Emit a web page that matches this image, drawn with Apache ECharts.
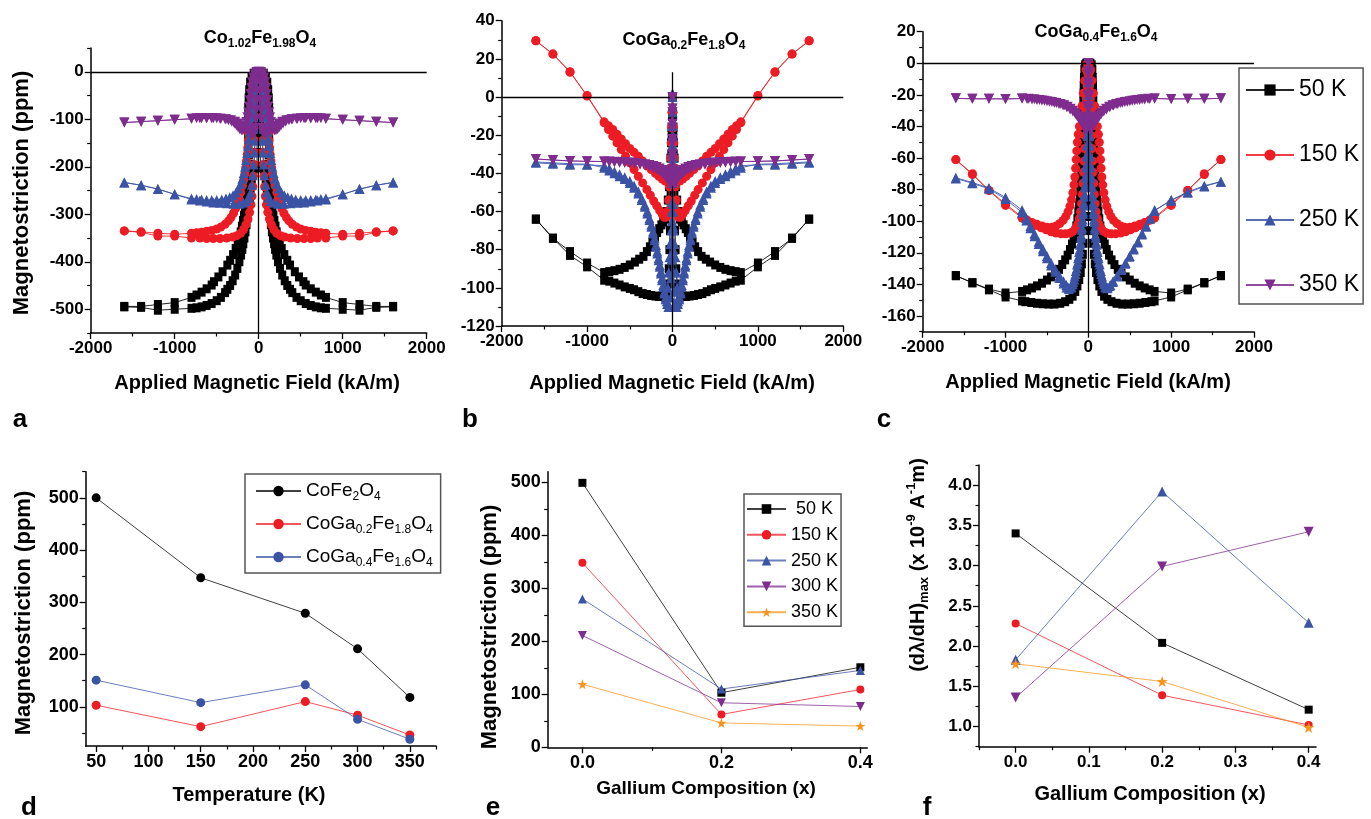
<!DOCTYPE html>
<html><head><meta charset="utf-8">
<script src="https://cdn.jsdelivr.net/npm/echarts@6/dist/echarts.min.js"></script>
<style>html,body{margin:0;padding:0;background:#fff}#c{width:1371px;height:819px}</style>
</head><body><div id="c"></div>
<script>
// ---------------- DATA ----------------
// Panel a: Co1.02Fe1.98O4, [H (kA/m), lambda (ppm)], two sweep branches per temperature
const a50A=[[-1600,-494],[-1400,-494],[-1200,-490],[-1000,-486],[-800,-475],[-740,-470],[-680,-464],[-620,-457],[-560,-449],[-532,-442],[-480,-432],[-430,-421],[-373,-407],[-340,-397],[-305,-385],[-274,-372],[-250,-360],[-230,-348],[-214,-337],[-200,-325],[-187,-313],[-175,-302],[-163,-289],[-152,-278],[-143,-267],[-135,-255],[-127,-243],[-119,-232],[-115,-215],[-115,-195],[-118,-175],[-122,-155],[-125,-135],[-127,-115],[-127,-95],[-125,-75],[-120,-55],[-113,-38],[-102,-22],[-85,-10],[-60,-3],[-30,0],[0,0],[10,-20],[15,-50],[18,-80],[20,-110],[20,-140],[20,-170],[20,-200],[40,-202],[60,-205],[75,-212],[83,-225],[90,-238],[97,-252],[105,-266],[115,-280],[125,-294],[135,-308],[145,-322],[157,-337],[170,-350],[183,-362],[195,-374],[210,-386],[230,-400],[254,-414],[280,-428],[310,-440],[340,-450],[373,-458],[400,-465],[450,-475],[500,-482],[560,-488],[620,-492],[680,-495],[740,-497],[800,-498],[1000,-500],[1200,-502],[1400,-496],[1600,-495]];
const a50B=[[-1600,-495],[-1400,-496],[-1200,-502],[-1000,-500],[-800,-498],[-740,-497],[-680,-495],[-620,-492],[-560,-488],[-500,-482],[-450,-475],[-400,-465],[-373,-458],[-340,-450],[-310,-440],[-280,-428],[-254,-414],[-230,-400],[-210,-386],[-195,-374],[-183,-362],[-170,-350],[-157,-337],[-145,-322],[-135,-308],[-125,-294],[-115,-280],[-105,-266],[-97,-252],[-90,-238],[-83,-225],[-75,-212],[-60,-205],[-40,-202],[-20,-200],[-20,-170],[-20,-140],[-20,-110],[-18,-80],[-15,-50],[-10,-20],[0,0],[30,0],[60,-3],[85,-10],[102,-22],[113,-38],[120,-55],[125,-75],[127,-95],[127,-115],[125,-135],[122,-155],[118,-175],[115,-195],[115,-215],[119,-232],[127,-243],[135,-255],[143,-267],[152,-278],[163,-289],[175,-302],[187,-313],[200,-325],[214,-337],[230,-348],[250,-360],[274,-372],[305,-385],[340,-397],[373,-407],[430,-421],[480,-432],[532,-442],[560,-449],[620,-457],[680,-464],[740,-470],[800,-475],[1000,-486],[1200,-490],[1400,-494],[1600,-494]];
const a150A=[[-1600,-335],[-1400,-337],[-1200,-340],[-1000,-342],[-800,-340],[-740,-339],[-680,-338],[-620,-336],[-560,-334],[-500,-331],[-450,-327],[-400,-321],[-360,-314],[-330,-307],[-300,-298],[-275,-288],[-254,-278],[-235,-267],[-215,-254],[-194,-240],[-178,-228],[-165,-215],[-155,-202],[-145,-188],[-137,-174],[-130,-160],[-124,-145],[-118,-130],[-112,-115],[-106,-100],[-100,-85],[-94,-70],[-88,-55],[-80,-40],[-70,-25],[-55,-12],[-35,-3],[0,0],[15,-20],[22,-45],[28,-70],[33,-95],[38,-120],[43,-145],[48,-170],[55,-195],[62,-220],[70,-242],[80,-262],[92,-280],[108,-296],[128,-310],[152,-322],[180,-332],[215,-340],[260,-345],[310,-348],[380,-350],[460,-351],[540,-351],[620,-351],[700,-350],[800,-350],[1000,-346],[1200,-346],[1400,-338],[1600,-335]];
const a150B=[[-1600,-335],[-1400,-338],[-1200,-346],[-1000,-346],[-800,-350],[-700,-350],[-620,-351],[-540,-351],[-460,-351],[-380,-350],[-310,-348],[-260,-345],[-215,-340],[-180,-332],[-152,-322],[-128,-310],[-108,-296],[-92,-280],[-80,-262],[-70,-242],[-62,-220],[-55,-195],[-48,-170],[-43,-145],[-38,-120],[-33,-95],[-28,-70],[-22,-45],[-15,-20],[0,0],[35,-3],[55,-12],[70,-25],[80,-40],[88,-55],[94,-70],[100,-85],[106,-100],[112,-115],[118,-130],[124,-145],[130,-160],[137,-174],[145,-188],[155,-202],[165,-215],[178,-228],[194,-240],[215,-254],[235,-267],[254,-278],[275,-288],[300,-298],[330,-307],[360,-314],[400,-321],[450,-327],[500,-331],[560,-334],[620,-336],[680,-338],[740,-339],[800,-340],[1000,-342],[1200,-340],[1400,-337],[1600,-335]];
const a250A=[[-1600,-233],[-1400,-239],[-1200,-247],[-1000,-258],[-800,-267],[-740,-268],[-680,-269],[-620,-270],[-560,-270],[-500,-270],[-440,-269],[-390,-267],[-345,-264],[-305,-260],[-270,-254],[-240,-246],[-215,-236],[-195,-225],[-178,-213],[-163,-200],[-150,-186],[-138,-171],[-127,-156],[-117,-141],[-108,-126],[-99,-111],[-90,-96],[-81,-81],[-72,-66],[-62,-51],[-51,-36],[-38,-21],[-22,-8],[0,0],[12,-20],[20,-45],[27,-70],[33,-95],[39,-120],[45,-145],[52,-170],[60,-195],[70,-218],[82,-238],[97,-254],[118,-265],[145,-272],[180,-276],[230,-278],[300,-278],[380,-277],[460,-276],[540,-275],[620,-273],[700,-271],[800,-269],[1000,-258],[1200,-247],[1400,-239],[1600,-233]];
const a250B=[[-1600,-233],[-1400,-239],[-1200,-247],[-1000,-258],[-800,-269],[-700,-271],[-620,-273],[-540,-275],[-460,-276],[-380,-277],[-300,-278],[-230,-278],[-180,-276],[-145,-272],[-118,-265],[-97,-254],[-82,-238],[-70,-218],[-60,-195],[-52,-170],[-45,-145],[-39,-120],[-33,-95],[-27,-70],[-20,-45],[-12,-20],[0,0],[22,-8],[38,-21],[51,-36],[62,-51],[72,-66],[81,-81],[90,-96],[99,-111],[108,-126],[117,-141],[127,-156],[138,-171],[150,-186],[163,-200],[178,-213],[195,-225],[215,-236],[240,-246],[270,-254],[305,-260],[345,-264],[390,-267],[440,-269],[500,-270],[560,-270],[620,-270],[680,-269],[740,-268],[800,-267],[1000,-258],[1200,-247],[1400,-239],[1600,-233]];
const a350A=[[-1600,-107],[-1400,-105],[-1200,-103],[-1000,-101],[-800,-99],[-740,-98],[-680,-98],[-620,-98],[-560,-98],[-500,-98],[-450,-99],[-400,-100],[-360,-102],[-320,-105],[-290,-109],[-265,-113],[-245,-117],[-225,-121],[-205,-123],[-188,-123],[-172,-120],[-158,-114],[-146,-106],[-135,-96],[-125,-85],[-115,-73],[-106,-60],[-97,-47],[-88,-34],[-78,-22],[-65,-12],[-48,-5],[-28,-1],[0,0],[12,-20],[18,-40],[24,-60],[30,-80],[36,-100],[44,-118],[56,-128],[75,-130],[100,-128],[130,-124],[160,-119],[195,-114],[235,-109],[280,-105],[330,-102],[390,-100],[460,-99],[540,-98],[620,-98],[700,-98],[800,-99],[1000,-101],[1200,-103],[1400,-105],[1600,-107]];
const a350B=[[-1600,-107],[-1400,-105],[-1200,-103],[-1000,-101],[-800,-99],[-700,-98],[-620,-98],[-540,-98],[-460,-99],[-390,-100],[-330,-102],[-280,-105],[-235,-109],[-195,-114],[-160,-119],[-130,-124],[-100,-128],[-75,-130],[-56,-128],[-44,-118],[-36,-100],[-30,-80],[-24,-60],[-18,-40],[-12,-20],[0,0],[28,-1],[48,-5],[65,-12],[78,-22],[88,-34],[97,-47],[106,-60],[115,-73],[125,-85],[135,-96],[146,-106],[158,-114],[172,-120],[188,-123],[205,-123],[225,-121],[245,-117],[265,-113],[290,-109],[320,-105],[360,-102],[400,-100],[450,-99],[500,-98],[560,-98],[620,-98],[680,-98],[740,-98],[800,-99],[1000,-101],[1200,-103],[1400,-105],[1600,-107]];

// Panel b: CoGa0.2Fe1.8O4
const b50A=[[-1600,-64],[-1400,-74],[-1200,-81],[-1000,-87],[-800,-92],[-740,-91.5],[-680,-91],[-620,-90.3],[-560,-89.3],[-500,-88],[-440,-86.5],[-390,-85],[-340,-83.5],[-300,-81],[-265,-78.5],[-235,-76],[-205,-73.5],[-180,-71],[-155,-69],[-130,-67],[-108,-65.5],[-87,-64],[-70,-60],[-55,-54],[-42,-47],[-32,-40],[-24,-32],[-17,-24],[-11,-16],[-6,-8],[0,0],[6,-10],[10,-20],[14,-30],[18,-40],[22,-50],[26,-60],[30,-70],[36,-80],[44,-90],[55,-98],[70,-102],[90,-104],[120,-104.5],[160,-104.5],[200,-104.3],[250,-104],[300,-103.5],[350,-103],[400,-102],[450,-101],[500,-100.3],[560,-99.5],[620,-98.5],[680,-97.5],[740,-96.5],[800,-96],[1000,-89],[1200,-83],[1400,-74],[1600,-64]];
const b50B=[[-1600,-64],[-1400,-74],[-1200,-83],[-1000,-89],[-800,-96],[-740,-96.5],[-680,-97.5],[-620,-98.5],[-560,-99.5],[-500,-100.3],[-450,-101],[-400,-102],[-350,-103],[-300,-103.5],[-250,-104],[-200,-104.3],[-160,-104.5],[-120,-104.5],[-90,-104],[-70,-102],[-55,-98],[-44,-90],[-36,-80],[-30,-70],[-26,-60],[-22,-50],[-18,-40],[-14,-30],[-10,-20],[-6,-10],[0,0],[6,-8],[11,-16],[17,-24],[24,-32],[32,-40],[42,-47],[55,-54],[70,-60],[87,-64],[108,-65.5],[130,-67],[155,-69],[180,-71],[205,-73.5],[235,-76],[265,-78.5],[300,-81],[340,-83.5],[390,-85],[440,-86.5],[500,-88],[560,-89.3],[620,-90.3],[680,-91],[740,-91.5],[800,-92],[1000,-87],[1200,-81],[1400,-74],[1600,-64]];
const b150A=[[-1600,29.5],[-1400,22.5],[-1200,13.3],[-1000,0.5],[-800,-13.5],[-750,-17],[-700,-20.5],[-650,-24],[-600,-27.5],[-550,-31],[-500,-34.5],[-450,-38],[-400,-41.5],[-350,-45],[-300,-48.5],[-260,-51.5],[-220,-54.5],[-185,-57],[-150,-59.5],[-120,-61.5],[-95,-63],[-75,-63],[-58,-60],[-45,-54],[-36,-47],[-28,-40],[-21,-32],[-15,-24],[-10,-16],[-5,-8],[0,0],[5,-8],[9,-16],[13,-24],[17,-32],[22,-37],[35,-41],[55,-43.5],[85,-44],[120,-43],[160,-41.5],[200,-40],[250,-38],[300,-36],[350,-33.5],[400,-31],[450,-29],[500,-27],[550,-24.5],[600,-22],[650,-19.5],[700,-17],[750,-15],[800,-13],[1000,0.8],[1200,13],[1400,22.5],[1600,29.5]];
const b150B=[[-1600,29.5],[-1400,22.5],[-1200,13],[-1000,0.8],[-800,-13],[-750,-15],[-700,-17],[-650,-19.5],[-600,-22],[-550,-24.5],[-500,-27],[-450,-29],[-400,-31],[-350,-33.5],[-300,-36],[-250,-38],[-200,-40],[-160,-41.5],[-120,-43],[-85,-44],[-55,-43.5],[-35,-41],[-22,-37],[-17,-32],[-13,-24],[-9,-16],[-5,-8],[0,0],[5,-8],[10,-16],[15,-24],[21,-32],[28,-40],[36,-47],[45,-54],[58,-60],[75,-63],[95,-63],[120,-61.5],[150,-59.5],[185,-57],[220,-54.5],[260,-51.5],[300,-48.5],[350,-45],[400,-41.5],[450,-38],[500,-34.5],[550,-31],[600,-27.5],[650,-24],[700,-20.5],[750,-17],[800,-13.5],[1000,0.5],[1200,13.3],[1400,22.5],[1600,29.5]];
const b250A=[[-1600,-34],[-1400,-34.5],[-1200,-35],[-1000,-35.2],[-800,-37],[-740,-38.5],[-680,-40],[-620,-41.5],[-560,-43],[-500,-45],[-450,-47.5],[-400,-50.5],[-360,-54],[-325,-57.5],[-295,-61],[-270,-64.5],[-248,-68],[-228,-71.5],[-210,-75],[-194,-78.5],[-178,-82],[-163,-85.5],[-149,-89],[-136,-92.5],[-122,-96],[-108,-99.5],[-95,-103],[-80,-106],[-64,-108.5],[-48,-110],[-32,-110],[-20,-105],[-14,-95],[-10,-85],[-7,-75],[-5,-65],[-3,-55],[-2,-45],[-1,-35],[0,-25],[0,-15],[0,-5],[0,2],[2,-8],[3,-20],[4,-32],[5,-44],[6,-56],[8,-68],[10,-80],[14,-92],[20,-102],[30,-108],[48,-110],[64,-108.5],[80,-106],[95,-103],[108,-99.5],[122,-96],[136,-92.5],[149,-89],[163,-85.5],[178,-82],[194,-78.5],[210,-75],[228,-71.5],[248,-68],[270,-64.5],[295,-61],[325,-57.5],[360,-54],[400,-50.5],[450,-47.5],[500,-45],[560,-43],[620,-41.5],[680,-40],[740,-38.5],[800,-37],[1000,-35.2],[1200,-35],[1400,-34.5],[1600,-34]];
const b250B=[[-1600,-34.5],[-1400,-35],[-1200,-35.5],[-1000,-35.5],[-800,-36],[-740,-37.5],[-680,-39],[-620,-40.5],[-560,-42],[-500,-44],[-450,-46.5],[-400,-49.5],[-360,-53],[-325,-56.5],[-295,-60],[-270,-63.5],[-248,-67],[-228,-70.5],[-210,-74],[-194,-77.5],[-178,-81],[-163,-84.5],[-149,-88],[-136,-91.5],[-122,-95],[-108,-98.5],[-95,-102],[-80,-105],[-66,-107],[-55,-100],[-45,-92],[-35,-84],[-25,-77],[-15,-70],[-6,-60],[-3,-45],[-1,-30],[0,-15],[0,0],[1,-20],[3,-40],[6,-60],[15,-70],[25,-77],[35,-84],[45,-92],[55,-100],[66,-107],[80,-105],[95,-102],[108,-98.5],[122,-95],[136,-91.5],[149,-88],[163,-84.5],[178,-81],[194,-77.5],[210,-74],[228,-70.5],[248,-67],[270,-63.5],[295,-60],[325,-56.5],[360,-53],[400,-49.5],[450,-46.5],[500,-44],[560,-42],[620,-40.5],[680,-39],[740,-37.5],[800,-36],[1000,-35.5],[1200,-35.5],[1400,-35],[1600,-34.5]];
const b350A=[[-1600,-32.5],[-1400,-33],[-1200,-33.5],[-1000,-33.7],[-800,-33.8],[-740,-34],[-680,-34.2],[-620,-34.4],[-560,-34.6],[-500,-34.8],[-440,-35.1],[-380,-35.5],[-320,-36],[-270,-36.6],[-225,-37.3],[-185,-38.1],[-150,-39],[-120,-40],[-95,-41],[-72,-42.2],[-52,-43.5],[-35,-45],[-22,-46],[-12,-44],[-7,-38],[-4,-30],[-2,-22],[-1,-14],[0,-6],[0,0],[1,-8],[2,-16],[4,-24],[6,-32],[9,-39],[14,-43],[22,-43],[35,-42],[52,-41],[72,-40],[95,-39],[120,-38.2],[150,-37.4],[185,-36.7],[225,-36.1],[270,-35.6],[320,-35.2],[380,-34.8],[440,-34.5],[500,-34.3],[560,-34.1],[620,-34],[680,-33.9],[740,-33.8],[800,-33.8],[1000,-33.7],[1200,-33.5],[1400,-33],[1600,-32.5]];
const b350B=[[-1600,-32.5],[-1400,-33],[-1200,-33.5],[-1000,-33.7],[-800,-33.8],[-740,-33.8],[-680,-33.9],[-620,-34],[-560,-34.1],[-500,-34.3],[-440,-34.5],[-380,-34.8],[-320,-35.2],[-270,-35.6],[-225,-36.1],[-185,-36.7],[-150,-37.4],[-120,-38.2],[-95,-39],[-72,-40],[-52,-41],[-35,-42],[-22,-43],[-14,-43],[-9,-39],[-6,-32],[-4,-24],[-2,-16],[-1,-8],[0,0],[0,-6],[1,-14],[2,-22],[4,-30],[7,-38],[12,-44],[22,-46],[35,-45],[52,-43.5],[72,-42.2],[95,-41],[120,-40],[150,-39],[185,-38.1],[225,-37.3],[270,-36.6],[320,-36],[380,-35.5],[440,-35.1],[500,-34.8],[560,-34.6],[620,-34.4],[680,-34.2],[740,-34],[800,-33.8],[1000,-33.7],[1200,-33.5],[1400,-33],[1600,-32.5]];

// Panel c: CoGa0.4Fe1.6O4
const c50A=[[-1600,-134.5],[-1400,-139],[-1200,-143],[-1000,-145.5],[-800,-144.5],[-740,-143.5],[-680,-142.3],[-620,-141],[-560,-139.3],[-500,-137.3],[-450,-135.3],[-400,-133],[-355,-130.5],[-315,-127.5],[-280,-124.5],[-250,-121.5],[-222,-118],[-198,-114.5],[-178,-111],[-160,-107],[-145,-103],[-132,-98.5],[-121,-94],[-112,-89],[-104,-84],[-97,-79],[-91,-74],[-86,-69],[-81,-64],[-77,-59],[-73,-54],[-70,-49],[-68,-44],[-66,-39],[-64,-34],[-62,-29],[-60,-24],[-58,-19],[-56,-14],[-53,-9],[-48,-4],[-40,-1],[-25,0],[0,0],[15,-8],[20,-18],[24,-28],[27,-38],[30,-48],[33,-58],[36,-68],[39,-78],[42,-88],[46,-97],[51,-106],[58,-114],[67,-121],[78,-127],[92,-132.5],[110,-137],[132,-141],[158,-144.5],[190,-147.5],[230,-149.5],[280,-151],[340,-152],[410,-152.5],[480,-152.5],[550,-152.3],[620,-152],[690,-151.5],[760,-151],[800,-150.5],[1000,-148],[1200,-143.5],[1400,-139],[1600,-134.5]];
const c50B=[[-1600,-134.5],[-1400,-139],[-1200,-143.5],[-1000,-148],[-800,-150.5],[-760,-151],[-690,-151.5],[-620,-152],[-550,-152.3],[-480,-152.5],[-410,-152.5],[-340,-152],[-280,-151],[-230,-149.5],[-190,-147.5],[-158,-144.5],[-132,-141],[-110,-137],[-92,-132.5],[-78,-127],[-67,-121],[-58,-114],[-51,-106],[-46,-97],[-42,-88],[-39,-78],[-36,-68],[-33,-58],[-30,-48],[-27,-38],[-24,-28],[-20,-18],[-15,-8],[0,0],[25,0],[40,-1],[48,-4],[53,-9],[56,-14],[58,-19],[60,-24],[62,-29],[64,-34],[66,-39],[68,-44],[70,-49],[73,-54],[77,-59],[81,-64],[86,-69],[91,-74],[97,-79],[104,-84],[112,-89],[121,-94],[132,-98.5],[145,-103],[160,-107],[178,-111],[198,-114.5],[222,-118],[250,-121.5],[280,-124.5],[315,-127.5],[355,-130.5],[400,-133],[450,-135.3],[500,-137.3],[560,-139.3],[620,-141],[680,-142.3],[740,-143.5],[800,-144.5],[1000,-145.5],[1200,-143],[1400,-139],[1600,-134.5]];
const c150A=[[-1600,-61],[-1400,-70],[-1200,-80.5],[-1000,-89],[-800,-97.5],[-740,-99.3],[-680,-100.8],[-620,-102],[-560,-103],[-500,-103.8],[-440,-103.8],[-390,-103],[-345,-101.5],[-305,-99.5],[-272,-97],[-245,-94],[-222,-90.5],[-203,-86.5],[-187,-82],[-174,-77],[-163,-72],[-154,-66.5],[-147,-61],[-140,-55.5],[-132,-50],[-122,-45],[-108,-40],[-92,-34],[-76,-27],[-60,-19],[-44,-11],[-28,-4],[-12,0],[0,0],[10,-6],[16,-14],[22,-22],[28,-30],[34,-38],[40,-46],[46,-54],[52,-62],[58,-69],[65,-76],[73,-83],[83,-89],[95,-94],[110,-98.5],[130,-102],[155,-104.5],[185,-106.5],[225,-107.7],[275,-108],[330,-108],[390,-107.5],[450,-106.7],[510,-105.5],[570,-104.2],[630,-102.7],[690,-101],[750,-99.3],[800,-98],[1000,-90],[1200,-80.5],[1400,-70.5],[1600,-61]];
const c150B=[[-1600,-61],[-1400,-70.5],[-1200,-80.5],[-1000,-90],[-800,-98],[-750,-99.3],[-690,-101],[-630,-102.7],[-570,-104.2],[-510,-105.5],[-450,-106.7],[-390,-107.5],[-330,-108],[-275,-108],[-225,-107.7],[-185,-106.5],[-155,-104.5],[-130,-102],[-110,-98.5],[-95,-94],[-83,-89],[-73,-83],[-65,-76],[-58,-69],[-52,-62],[-46,-54],[-40,-46],[-34,-38],[-28,-30],[-22,-22],[-16,-14],[-10,-6],[0,0],[12,0],[28,-4],[44,-11],[60,-19],[76,-27],[92,-34],[108,-40],[122,-45],[132,-50],[140,-55.5],[147,-61],[154,-66.5],[163,-72],[174,-77],[187,-82],[203,-86.5],[222,-90.5],[245,-94],[272,-97],[305,-99.5],[345,-101.5],[390,-103],[440,-103.8],[500,-103.8],[560,-103],[620,-102],[680,-100.8],[740,-99.3],[800,-97.5],[1000,-89],[1200,-80.5],[1400,-70],[1600,-61]];
const c250A=[[-1600,-72.5],[-1400,-75.5],[-1200,-79],[-1000,-85],[-800,-93],[-750,-98],[-700,-103],[-650,-108],[-600,-113],[-550,-117.5],[-500,-122],[-450,-126.5],[-400,-130.5],[-350,-134.5],[-300,-138],[-265,-140.5],[-235,-142],[-210,-142],[-188,-140],[-170,-137],[-154,-133.5],[-140,-130],[-127,-126],[-115,-122],[-104,-118],[-94,-113.5],[-85,-109],[-76,-104],[-68,-99],[-60,-94],[-52,-88.5],[-44,-83],[-36,-77],[-29,-71],[-22,-64.5],[-16,-58],[-11,-51],[-7,-45],[-3,-42],[0,-40],[0,-30],[0,-20],[2,-12],[4,-25],[6,-38],[9,-46],[13,-52],[18,-59],[24,-66],[31,-72.5],[38,-78.5],[46,-84.5],[54,-90],[62,-95.5],[71,-100.5],[80,-105.5],[90,-110.5],[100,-115],[112,-119.5],[124,-123.5],[137,-127.5],[151,-131.5],[166,-135],[183,-138.5],[203,-141.5],[228,-142.5],[258,-141],[295,-138.5],[345,-135],[395,-131],[445,-127],[495,-122.5],[545,-118],[595,-113.5],[645,-108.5],[695,-103.5],[745,-98.5],[800,-93.5],[1000,-86.5],[1200,-82],[1400,-78],[1600,-75]];
const c250B=[[-1600,-73],[-1400,-76],[-1200,-79.5],[-1000,-86],[-800,-94.5],[-750,-99.5],[-700,-104.5],[-650,-109.5],[-600,-114.5],[-550,-119],[-500,-123.5],[-450,-128],[-400,-132],[-350,-136],[-300,-139.5],[-265,-142],[-235,-143],[-205,-141.5],[-183,-138.5],[-166,-135],[-151,-131.5],[-137,-127.5],[-124,-123.5],[-112,-119.5],[-100,-115],[-90,-110.5],[-80,-105.5],[-71,-100.5],[-62,-95.5],[-54,-90],[-46,-84.5],[-38,-78.5],[-31,-72.5],[-24,-66],[-18,-59],[-13,-52],[-9,-46],[-5,-41],[0,-40],[3,-42],[7,-45],[11,-51],[16,-58],[22,-64.5],[29,-71],[36,-77],[44,-83],[52,-88.5],[60,-94],[68,-99],[76,-104],[85,-109],[94,-113.5],[104,-118],[115,-122],[127,-126],[140,-130],[154,-133.5],[170,-137],[188,-140],[210,-142],[235,-142],[265,-140.5],[300,-138],[350,-134.5],[400,-130.5],[450,-126.5],[500,-122],[550,-117.5],[600,-113],[650,-108],[700,-103],[750,-98],[800,-93],[1000,-87],[1200,-81.5],[1400,-77.5],[1600,-75]];
const c350A=[[-1600,-22.2],[-1400,-22.5],[-1200,-22.5],[-1000,-22.6],[-800,-22.3],[-740,-22.6],[-680,-22.9],[-620,-23.2],[-560,-23.6],[-500,-24],[-440,-24.5],[-385,-25.1],[-335,-25.8],[-290,-26.6],[-250,-27.6],[-215,-28.8],[-185,-30.1],[-158,-31.5],[-135,-33],[-114,-34.6],[-95,-36.2],[-78,-37.8],[-62,-39.3],[-47,-40.6],[-34,-41.6],[-22,-42],[-13,-40],[-8,-34],[-5,-27],[-3,-20],[-1,-12],[0,-5],[0,0],[1,-7],[3,-14],[5,-21],[8,-28],[12,-34],[18,-38.5],[27,-41],[39,-41.2],[53,-40],[69,-38.5],[87,-37],[107,-35.4],[130,-33.8],[156,-32.2],[186,-30.6],[220,-29.2],[260,-27.9],[305,-26.8],[355,-25.8],[410,-25],[470,-24.3],[530,-23.7],[590,-23.2],[650,-22.8],[720,-22.5],[800,-22.3],[1000,-22.6],[1200,-22.5],[1400,-22.5],[1600,-22.2]];
const c350B=[[-1600,-22.2],[-1400,-22.5],[-1200,-22.5],[-1000,-22.6],[-800,-22.3],[-720,-22.5],[-650,-22.8],[-590,-23.2],[-530,-23.7],[-470,-24.3],[-410,-25],[-355,-25.8],[-305,-26.8],[-260,-27.9],[-220,-29.2],[-186,-30.6],[-156,-32.2],[-130,-33.8],[-107,-35.4],[-87,-37],[-69,-38.5],[-53,-40],[-39,-41.2],[-27,-41],[-18,-38.5],[-12,-34],[-8,-28],[-5,-21],[-3,-14],[-1,-7],[0,0],[0,-5],[1,-12],[3,-20],[5,-27],[8,-34],[13,-40],[22,-42],[34,-41.6],[47,-40.6],[62,-39.3],[78,-37.8],[95,-36.2],[114,-34.6],[135,-33],[158,-31.5],[185,-30.1],[215,-28.8],[250,-27.6],[290,-26.6],[335,-25.8],[385,-25.1],[440,-24.5],[500,-24],[560,-23.6],[620,-23.2],[680,-22.9],[740,-22.6],[800,-22.3],[1000,-22.6],[1200,-22.5],[1400,-22.5],[1600,-22.2]];

// Panel d: saturation magnetostriction vs temperature
const dTemps=[50,150,250,300,350];
const dCoFe=[500,347,279,211,118];
const dGa02=[103,62,110,84,46];
const dGa04=[151,108,142,76,38];

// Panel e: magnetostriction vs Ga composition
const eComp=[0,0.2,0.4];
const e50=[499,103,151];
const e150=[348,62,109];
const e250=[280,110,145];
const e300=[211,84,77];
const e350=[119,46,40];

// Panel f: (dλ/dH)max vs Ga composition
const fComp=[0,0.2,0.4];
const f50=[3.40,2.04,1.21];
const f150=[2.28,1.39,1.02];
const f250=[1.83,3.92,2.29];
const f300=[1.36,2.99,3.42];
const f350=[1.78,1.56,0.99];

// Axis ranges and tick values
const aX=[-2000,2000], aY=[-550,50];
const bX=[-2000,2000], bY=[-120,40];
const cX=[-2000,2000], cY=[-170,20];
const dX=[40,375], dY=[25,550];
const eX=[-0.05,0.41], eY=[0,520];
const fX=[-0.05,0.41], fY=[0.75,4.25];
const fieldTicks=[-2000,-1000,0,1000,2000], fieldMinor=[-1500,-500,500,1500];
const aYTicks=[-500,-400,-300,-200,-100,0], aYMinor=[-550,-450,-350,-250,-150,-50,50];
const bYTicks=[-120,-100,-80,-60,-40,-20,0,20,40], bYMinor=[-110,-90,-70,-50,-30,-10,10,30];
const cYTicks=[-160,-140,-120,-100,-80,-60,-40,-20,0,20], cYMinor=[-170,-150,-130,-110,-90,-70,-50,-30,-10,10];
const dXTicks=[50,100,150,200,250,300,350], dXMinor=[75,125,175,225,275,325,375];
const dYTicks=[100,200,300,400,500], dYMinor=[50,150,250,350,450,550];
const eXTicks=[0,0.2,0.4], eXMinor=[0.1,0.3];
const eYTicks=[0,100,200,300,400,500], eYMinor=[50,150,250,350,450];
const fXTicks=[0,0.1,0.2,0.3,0.4], fXMinor=[-0.05,0.05,0.15,0.25,0.35];
const fYTicks=[1,1.5,2,2.5,3,3.5,4], fYMinor=[0.75,1.25,1.75,2.25,2.75,3.25,3.75,4.25];
// reference lines (zero axes) in the loops
const aZero={h:[[-2000,0],[2000,0]], v:[[0,0],[0,-550]]};
const bZero={h:[[-2000,0],[2000,0]], v:[[0,13],[0,-120]]};
const cZero={h:[[-2000,0],[2000,0]], v:[[0,0],[0,-170]]};

// ---------------- STYLE / BUILD ----------------
const FONT='"Liberation Sans", Arial, Helvetica, sans-serif';
const K='#000000', R='#ED1C24', B='#3B53A4', P='#7E2C8E', O='#F7941E';
const STAR='path://M0,-10L2.35,-3.24L9.51,-3.09L3.8,1.24L5.88,8.09L0,4L-5.88,8.09L-3.8,1.24L-9.51,-3.09L-2.35,-3.24Z';

const grids=[
 {left:90.7, top:48, width:336, height:285},
 {left:501.7, top:20.7, width:341.6, height:305.3},
 {left:922.7, top:31.7, width:331.3, height:300},
 {left:85.7, top:471.7, width:350.3, height:274.3},
 {left:547.7, top:471.7, width:319.6, height:275.6},
 {left:979, top:465, width:337, height:281.7}
];

const xAxes=[], yAxes=[];
const plain=v=>String(v);
function addAxes(g, xr, yr, xt, xm, yt, ym, fs, xf, yf){
  const lab={fontSize:fs, fontWeight:'bold', color:'#000', fontFamily:FONT, margin:7};
  xAxes.push({type:'value', gridIndex:g, position:'bottom', min:xr[0], max:xr[1],
    axisLine:{show:true, onZero:false, lineStyle:{color:'#000', width:1.5}},
    axisTick:{show:true, customValues:xt, length:6, lineStyle:{color:'#000', width:1.3}},
    axisLabel:Object.assign({customValues:xt, formatter:xf||plain}, lab),
    splitLine:{show:false}});
  xAxes.push({type:'value', gridIndex:g, position:'bottom', min:xr[0], max:xr[1],
    axisLine:{show:false, onZero:false}, axisTick:{show:true, customValues:xm, length:3.5, lineStyle:{color:'#000', width:1.2}},
    axisLabel:{show:false}, splitLine:{show:false}});
  yAxes.push({type:'value', gridIndex:g, position:'left', min:yr[0], max:yr[1],
    axisLine:{show:true, onZero:false, lineStyle:{color:'#000', width:1.5}},
    axisTick:{show:true, customValues:yt, length:6, lineStyle:{color:'#000', width:1.3}},
    axisLabel:Object.assign({customValues:yt, formatter:yf||plain}, lab),
    splitLine:{show:false}});
  yAxes.push({type:'value', gridIndex:g, position:'left', min:yr[0], max:yr[1],
    axisLine:{show:false, onZero:false}, axisTick:{show:true, customValues:ym, length:3.5, lineStyle:{color:'#000', width:1.2}},
    axisLabel:{show:false}, splitLine:{show:false}});
}
const f1=v=>v.toFixed(1);
addAxes(0,aX,aY,fieldTicks,fieldMinor,aYTicks,aYMinor,17);
addAxes(1,bX,bY,fieldTicks,fieldMinor,bYTicks,bYMinor,17);
addAxes(2,cX,cY,fieldTicks,fieldMinor,cYTicks,cYMinor,17);
addAxes(3,dX,dY,dXTicks,dXMinor,dYTicks,dYMinor,18);
addAxes(4,eX,eY,eXTicks,eXMinor,eYTicks,eYMinor,18,f1);
addAxes(5,fX,fY,fXTicks,fXMinor,fYTicks,fYMinor,17,f1,f1);

const series=[];
function zeroLines(z){
  return {silent:true, symbol:'none', label:{show:false}, animation:false,
    lineStyle:{color:'#000', width:1.3, type:'solid'}, emphasis:{disabled:true},
    data:[[{coord:z.h[0]},{coord:z.h[1]}],[{coord:z.v[0]},{coord:z.v[1]}]]};
}
function loop(panel, name, data, color, symbol, size, rot, z, ml){
  const s={type:'line', name, xAxisIndex:2*panel, yAxisIndex:2*panel, data,
    symbol, symbolSize:size, symbolRotate:rot||0, showSymbol:true, z,
    lineStyle:{color, width:1, opacity:0.85}, itemStyle:{color, borderWidth:0},
    emphasis:{disabled:true}, animation:false};
  if(ml) s.markLine=zeroLines(ml);
  series.push(s);
}
const loops=[
 [0,[a50A,a50B],[a150A,a150B],[a250A,a250B],[a350A,a350B],aZero],
 [1,[b50A,b50B],[b150A,b150B],[b250A,b250B],[b350A,b350B],bZero],
 [2,[c50A,c50B],[c150A,c150B],[c250A,c250B],[c350A,c350B],cZero]
];
loops.forEach(L=>{
  const p=L[0];
  L[1].forEach((d,i)=>loop(p,'50 K',d,K,'rect',[8,9],0,2,i===0?L[5]:null));
  L[2].forEach(d=>loop(p,'150 K',d,R,'circle',9,0,3));
  L[3].forEach(d=>loop(p,'250 K',d,B,'triangle',10,0,4));
  L[4].forEach(d=>loop(p,'350 K',d,P,'triangle',10,180,5));
});
function pts(xs,ys){return xs.map((x,i)=>[x,ys[i]]);}
function simple(panel,name,xs,ys,color,symbol,size,rot){
  series.push({type:'line', name, xAxisIndex:2*panel, yAxisIndex:2*panel, data:pts(xs,ys),
    symbol, symbolSize:size, symbolRotate:rot||0, showSymbol:true, z:3,
    lineStyle:{color, width:1, opacity:0.75}, itemStyle:{color, borderWidth:0},
    emphasis:{disabled:true}, animation:false});
}
simple(3,'dCo',dTemps,dCoFe,K,'circle',9);
simple(3,'dGa2',dTemps,dGa02,R,'circle',9);
simple(3,'dGa4',dTemps,dGa04,B,'circle',9);
simple(4,'e50',eComp,e50,K,'rect',8);
simple(4,'e150',eComp,e150,R,'circle',8);
simple(4,'e250',eComp,e250,B,'triangle',9);
simple(4,'e300',eComp,e300,P,'triangle',9,180);
simple(4,'e350',eComp,e350,O,STAR,10);
simple(5,'f50',fComp,f50,K,'rect',8);
simple(5,'f150',fComp,f150,R,'circle',8);
simple(5,'f250',fComp,f250,B,'triangle',10);
simple(5,'f300',fComp,f300,P,'triangle',10,180);
simple(5,'f350',fComp,f350,O,STAR,11);

const subRich=(fs,sfs)=>({s:{fontSize:sfs, lineHeight:sfs, verticalAlign:'bottom', fontFamily:FONT, fontWeight:'bold', fill:'#000', color:'#000'},
  p:{fontSize:sfs, lineHeight:sfs, verticalAlign:'top', fontFamily:FONT, fontWeight:'bold', fill:'#000', color:'#000'}});
const dNames={dCo:'CoFe{s|2}O{s|4}', dGa2:'CoGa{s|0.2}Fe{s|1.8}O{s|4}', dGa4:'CoGa{s|0.4}Fe{s|1.6}O{s|4}'};
const eNames={e50:' 50 K', e150:'150 K', e250:'250 K', e300:'300 K', e350:'350 K'};
const legRich={s:{fontSize:12, lineHeight:12, verticalAlign:'bottom', fontFamily:FONT, color:'#000'}};

const legends=[
 {data:['50 K','150 K','250 K','350 K'], orient:'vertical', left:1239, top:68, itemWidth:48, itemHeight:14,
  itemGap:41, padding:[10,4,7,6], borderColor:'#555', borderWidth:1.5, selectedMode:false,
  textStyle:{fontSize:23, lineHeight:24, fontFamily:FONT, color:'#000'}},
 {data:['dCo','dGa2','dGa4'], orient:'vertical', left:245, top:474, itemWidth:45, itemHeight:13,
  itemGap:9, padding:[5,8,4,10], borderColor:'#555', borderWidth:1.5, selectedMode:false,
  formatter:n=>dNames[n], textStyle:{fontSize:19, lineHeight:24, fontFamily:FONT, color:'#000', rich:legRich}},
 {data:['e50','e150','e250','e300','e350'], orient:'vertical', left:744, top:494, itemWidth:39, itemHeight:12,
  itemGap:5.8, padding:[5,3,4,2], borderColor:'#555', borderWidth:1.5, selectedMode:false,
  formatter:n=>eNames[n], textStyle:{fontSize:18, lineHeight:20, fontFamily:FONT, color:'#000'}}
];

function T(x,y,text,fs,opt){
  opt=opt||{};
  return {type:'text', x, y, rotation:opt.rot||0, silent:true, z:100,
    style:{text, fontSize:fs, fontWeight:'bold', fontFamily:FONT, fill:'#000',
      align:'center', verticalAlign:'middle', lineHeight:opt.lh||fs+4, rich:opt.rich}};
}
const R90=Math.PI/2;
const graphics=[
 T(260,38,'Co{s|1.02}Fe{s|1.98}O{s|4}',18,{rich:subRich(18,12),lh:24}),
 T(684,40,'CoGa{s|0.2}Fe{s|1.8}O{s|4}',18,{rich:subRich(18,12),lh:24}),
 T(1096,32,'CoGa{s|0.4}Fe{s|1.6}O{s|4}',18,{rich:subRich(18,12),lh:24}),
 T(22,193,'Magnetostriction (ppm)',22,{rot:R90}),
 T(257,383,'Applied Magnetic Field (kA/m)',20),
 T(672,383,'Applied Magnetic Field (kA/m)',20),
 T(1088,382,'Applied Magnetic Field (kA/m)',20),
 T(24,613,'Magnetostriction (ppm)',22,{rot:R90}),
 T(249,795,'Temperature (K)',20),
 T(490,627,'Magnetostriction (ppm)',22,{rot:R90}),
 T(706,789,'Gallium Composition (x)',19),
 T(918,565,'(dλ/dH){s|max} (x 10{p|-9} A{p|-1}m)',20,{rot:R90,rich:subRich(20,13),lh:26}),
 T(1150,794,'Gallium Composition (x)',20),
 T(20,420,'a',26), T(470,420,'b',26), T(884,420,'c',26),
 T(29,808,'d',26), T(493,808,'e',26), T(927,808,'f',26)
];

const chart=echarts.init(document.getElementById('c'),null,{renderer:'canvas'});
chart.setOption({
  animation:false, backgroundColor:'#fff',
  grid:grids, xAxis:xAxes, yAxis:yAxes, series, legend:legends, graphic:graphics
});
</script></body></html>
